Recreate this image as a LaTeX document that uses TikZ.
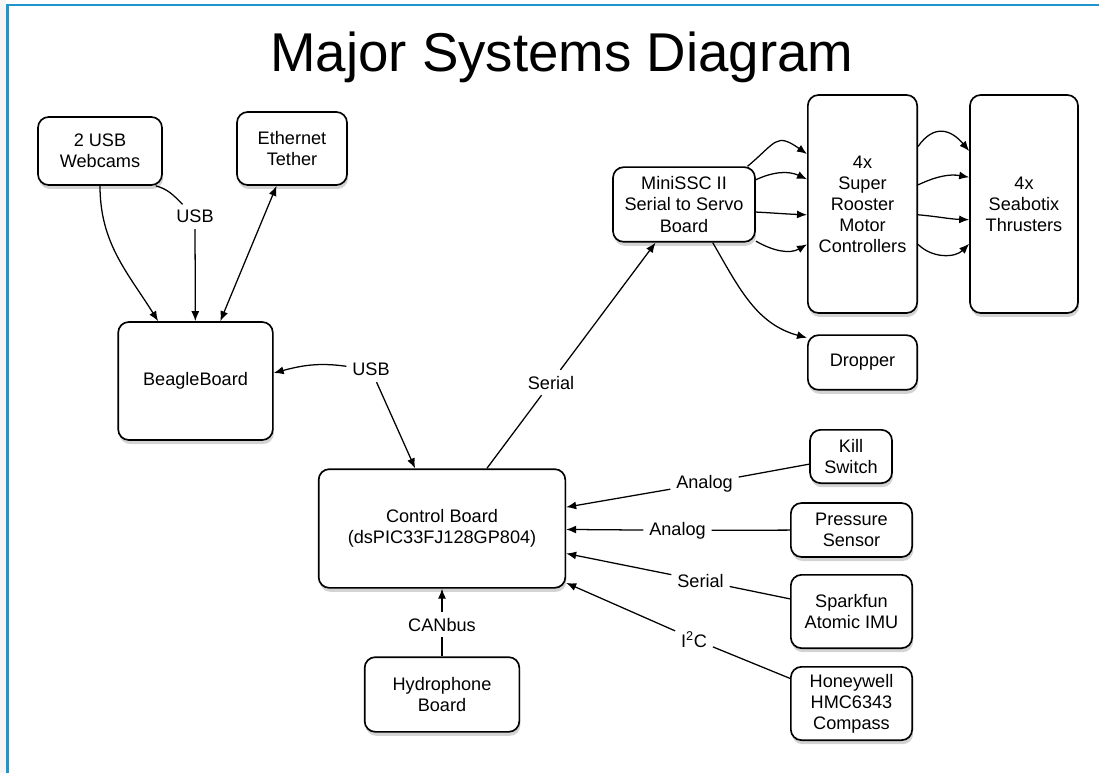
\documentclass[tikz,border=0pt]{standalone}
\usepackage{fontspec}
\setmainfont{Liberation Sans}
\usetikzlibrary{arrows.meta,shadows}
\definecolor{frameblue}{RGB}{28,150,204}

\begin{document}
\begin{tikzpicture}[x=0.75pt,y=0.75pt,line width=0.95pt,>={Latex[length=7.5pt,width=6pt]},
box/.style ={draw,line width=1.25pt,rounded corners=8pt,fill=white,align=center,font=\fontsize{13.6}{15.8}\selectfont,
  drop shadow={opacity=0.35,shadow xshift=0.8pt,shadow yshift=-3pt}},
lab/.style ={anchor=base,inner sep=4pt,font=\fontsize{13.6}{15.8}\selectfont}]

\useasboundingbox (0,0) rectangle (1099,-773);
\fill[gray!8] (0,0) rectangle (6,-773);
\draw[frameblue,line width=1.6pt] (7.5,-773) -- (7.5,-5) -- (1099,-5);

\node[anchor=base,font=\fontsize{41}{49}\selectfont] (T) at (562,-72) {Major Systems Diagram};

\node[box,minimum width=93pt,minimum height=51pt] (Cam) at (100,-151) {2 USB\\Webcams};
\node[box,minimum width=82.5pt,minimum height=54.75pt] (Eth) at (292,-148.5) {Ethernet\\Tether};
\node[box,minimum width=116pt,minimum height=88.5pt] (BB) at (195.5,-381) {BeagleBoard};
\node[box,minimum width=185pt,minimum height=89pt] (CB) at (442,-528.5) {Control Board\\(dsPIC33FJ128GP804)};
\node[box,minimum width=116pt,minimum height=56pt] (HB) at (442,-694.5) {Hydrophone\\Board};
\node[box,minimum width=106.5pt,minimum height=56pt] (SSC) at (684,-204.5) {MiniSSC II\\Serial to Servo\\Board};
\node[box,minimum width=82pt,minimum height=163.5pt] (SR) at (862.5,-204) {4x\\Super\\Rooster\\Motor\\Controllers};
\node[box,minimum width=81pt,minimum height=163.5pt] (ST) at (1024,-204) {4x\\Seabotix\\Thrusters};
\node[box,minimum width=82pt,minimum height=41pt] (DR) at (862.5,-362.5) {Dropper};
\node[box,minimum width=61.5pt,minimum height=40pt] (KS) at (851,-456.5) {Kill\\Switch};
\node[box,minimum width=91pt,minimum height=40.5pt] (PS) at (851.5,-530) {Pressure\\Sensor};
\node[box,minimum width=91pt,minimum height=55pt] (IMU) at (851.5,-611.5) {Sparkfun\\Atomic IMU};
\node[box,minimum width=91pt,minimum height=55pt] (HC) at (851.5,-703.5) {Honeywell\\HMC6343\\Compass};

\node[lab] (U1) at (195,-223) {USB};
\node[lab] (U2) at (371,-376) {USB};
\node[lab] (S1) at (551,-389) {Serial};
\node[lab] (A1) at (704.5,-488) {Analog};
\node[lab] (A2) at (677.5,-535) {Analog};
\node[lab] (S2) at (700.5,-587) {Serial};
\node[lab] (I2) at (694,-647) {I\textsuperscript{2}C};
\node[lab] (CAN) at (442,-631) {CANbus};

%BeagleBoard
\path (Cam.south) edge[->,out=-90,in=122] (BB.122);
\path (Cam.-32) edge[out=-15,in=135] (U1);
\path (U1) edge[->] (BB);
\path (BB) edge[<->] (Eth);
\path (U2) edge[->,out=172,in=15] ([yshift=6pt]BB.east);
\path (U2) edge[->] (CB);

%servo board
\path (CB) edge (S1);
\path (S1) edge[->] (SSC);
\path (SSC.31) edge[->,out=40,in=145,looseness=1.6] (SR.138);
\path (SSC.19) edge[->,out=25,in=155] (SR.156);
\path (SSC.-6) edge[->,out=-3,in=178] (SR.191);
\path (SSC.-27) edge[->,out=-30,in=210] (SR.216);
\path (SR.46) edge[->,out=55,in=130,looseness=1.4] (ST.136);
\path (SR.19) edge[->,out=25,in=170] (ST.154);
\path (SR.-11) edge[->,out=-5,in=178] (ST.196);
\path (SR.-36) edge[->,out=-45,in=225] (ST.216);
\path (SSC.-53) edge[->,out=-60,in=165] (DR.156);

%sensors
\path (KS) edge (A1);
\path (A1) edge[->] (CB);
\path (PS) edge (A2);
\path (A2) edge[->] (CB);
\path (IMU) edge (S2);
\path (S2) edge[->] (CB);
\path (HC) edge (I2);
\path (I2) edge[->] (CB);
\path (HB) edge (CAN);
\path (CAN) edge[->] (CB);
\end{tikzpicture}
\end{document}
